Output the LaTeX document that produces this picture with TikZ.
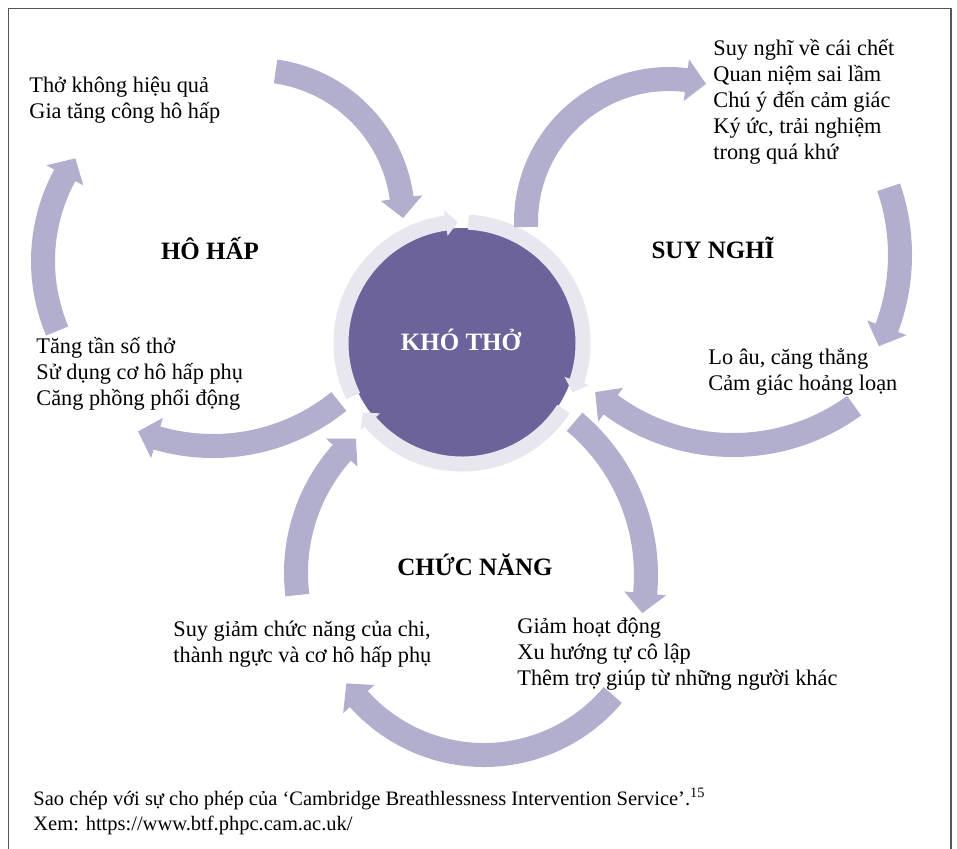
\documentclass[tikz,border=0pt]{standalone}
\usepackage{fontspec}
\setmainfont{Liberation Serif}
\definecolor{lav}{HTML}{B2AECE}
\definecolor{kpurple}{HTML}{6C639B}
\definecolor{ringc}{HTML}{E8E6EE}
\definecolor{framec}{HTML}{555555}

% #1 centre, #2 radius, #3 start angle, #4 tip angle, #5 band width, #6 head width, #7 head length (px)
\newcommand\circarrow[7]{%
  \pgfmathsetmacro\caBase{#4+#7/#2*57.2958}%
  \pgfmathsetmacro\caEnd{\caBase-0.4}%
  \pgfmathsetmacro\caIn{#2-#6/2}%
  \pgfmathsetmacro\caOut{#2+#6/2}%
  \pgfmathsetmacro\caW{#5*0.5}%
  \draw[line width=\caW pt] ([shift={(#3:#2)}]#1) arc[start angle=#3, end angle=\caEnd, radius=#2];
  \fill ([shift={(\caBase:\caIn)}]#1) -- ([shift={(\caBase:\caOut)}]#1) -- ([shift={(#4:#2)}]#1) -- cycle;
}
\newcommand\textblock[1]{\vtop{\halign{##\hfil\cr#1\crcr}}}

\tikzset{
  body/.style={anchor=base west, inner sep=0pt, font=\fontsize{11.15}{13}\selectfont},
  heading/.style={anchor=base, inner sep=0pt, font=\fontsize{12.5}{15}\selectfont\bfseries},
  note/.style={anchor=base west, inner sep=0pt, font=\fontsize{10.25}{12.5}\selectfont},
}

\begin{document}
\begin{tikzpicture}[x=0.5pt, y=0.5pt]
\useasboundingbox (0,0) rectangle (957,-848);
\fill[white] (0,0) rectangle (957,-848);
\draw[framec, line width=0.9pt] (8.5,-860) -- (8.5,-8.5) -- (951,-8.5) -- (951,-860);

% centres of the arcs
\coordinate (cK) at (462,-343);
\coordinate (cA1) at (255,-218);
\coordinate (cA2) at (222,-261);
\coordinate (cA3) at (213,-246);
\coordinate (cB1) at (669,-222);
\coordinate (cB2) at (692,-255);
\coordinate (cB3) at (733,-239);
\coordinate (cC1) at (446,-575);
\coordinate (cC2) at (484,-587);
\coordinate (cC3) at (477,-573);

% central circle
\node (kho) [circle, fill=kpurple, inner sep=0pt, minimum size=115pt] at (cK) {};

% ring arrows
\begin{scope}[color=ringc]
  \circarrow{cK}{121}{206}{92}{15}{26}{12}
  \circarrow{cK}{121}{87}{-24}{15}{26}{12}
  \circarrow{cK}{121}{-33}{-145}{15}{26}{12}
\end{scope}

% outer cycle arrows
\begin{scope}[color=lav]
  \circarrow{cA1}{148}{82}{0}{24}{42}{20}
  \circarrow{cA2}{179}{203}{145}{24}{42}{20}
  \circarrow{cA3}{200}{-51}{-112}{24}{42}{20}
  \circarrow{cB1}{143}{182}{75}{24}{42}{20}
  \circarrow{cB2}{208}{19}{-26}{24}{42}{20}
  \circarrow{cB3}{206}{-54}{-132}{24}{42}{20}
  \circarrow{cC1}{200}{50}{-11}{24}{42}{20}
  \circarrow{cC2}{168}{-40}{-145}{24}{42}{20}
  \circarrow{cC3}{181}{187}{132}{24}{42}{20}
\end{scope}

% texts
\node[heading, text=white] (khotext) at (461,-350) {KHÓ THỞ};
\node[heading] (hohap) at (210,-259) {HÔ HẤP};
\node[heading] (suynghi) at (713,-258) {SUY NGHĨ};
\node[heading] (chucnang) at (475,-575) {CHỨC NĂNG};

\node[body] (t1) at (29,-92) {\textblock{Thở không hiệu quả\cr Gia tăng công hô hấp}};
\node[body] (t2) at (36,-353) {\textblock{Tăng tần số thở\cr Sử dụng cơ hô hấp phụ\cr Căng phồng phổi động}};
\node[body] (t3) at (713,-55) {\textblock{Suy nghĩ về cái chết\cr Quan niệm sai lầm\cr Chú ý đến cảm giác\cr Ký ức, trải nghiệm\cr trong quá khứ}};
\node[body] (t4) at (708,-364) {\textblock{Lo âu, căng thẳng\cr Cảm giác hoảng loạn}};
\node[body] (t5) at (173,-636) {\textblock{Suy giảm chức năng của chi,\cr thành ngực và cơ hô hấp phụ}};
\node[body] (t6) at (517,-633) {\textblock{Giảm hoạt động\cr Xu hướng tự cô lập\cr Thêm trợ giúp từ những người khác}};

\node[note] (src) at (33,-805) {\textblock{Sao chép với sự cho phép của ‘Cambridge Breathlessness Intervention Service’.\textsuperscript{15}\cr Xem: https://www.btf.phpc.cam.ac.uk/}};
\end{tikzpicture}
\end{document}
